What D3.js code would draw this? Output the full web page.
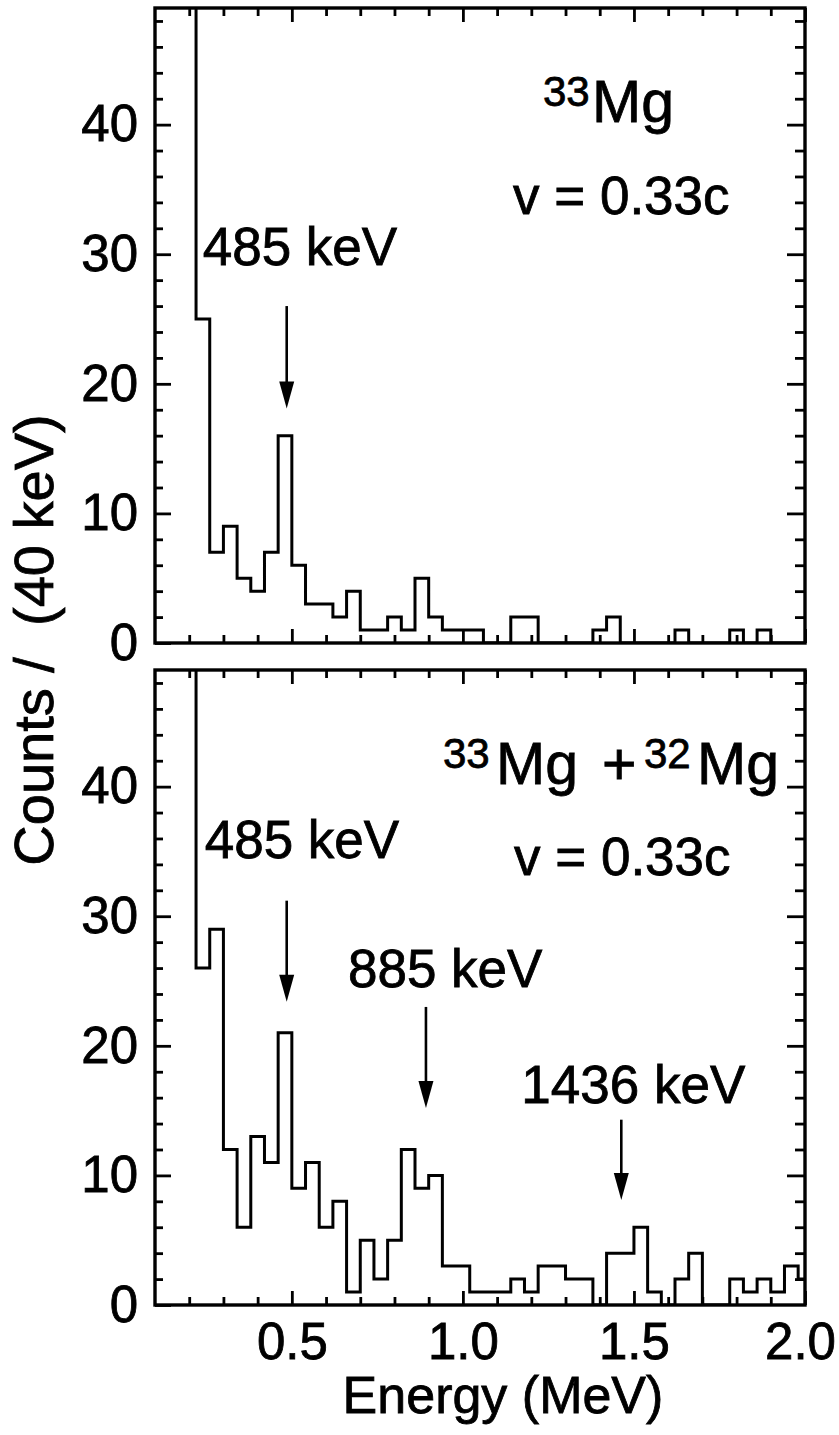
<!DOCTYPE html>
<html>
<head>
<meta charset="utf-8">
<script src="https://cdn.jsdelivr.net/npm/d3@7"></script>
<style>
  body { margin: 0; background: #fff; }
  text { font-family: "Liberation Sans", Arial, Helvetica, sans-serif; fill: #000;
         stroke: #000; stroke-width: 0.8px; }
</style>
</head>
<body>
<svg id="chart" width="839" height="1435"></svg>
<script>
// bin lower edges (40 keV bins), last value closes the last bin
var binEdges = [0.22,0.26,0.30,0.34,0.38,0.42,0.46,0.50,0.54,0.58,0.62,0.66,0.70,0.74,0.78,
  0.82,0.86,0.90,0.94,0.98,1.02,1.06,1.10,1.14,1.18,1.22,1.26,1.30,1.34,1.38,1.42,1.46,1.50,
  1.54,1.58,1.62,1.66,1.70,1.74,1.78,1.82,1.86,1.90,1.94,1.98,2.02];

// counts per bin, 33Mg only
var counts33 = [25,7,9,5,4,7,16,6,3,3, 2,4,1,1,2,1,5,2,1,1, 1,0,0,2,2,0,0,0,0,1,
  2,0,0,0,0,1,0,0,0,1, 0,1,0,0,0];
// counts per bin, 33Mg + 32Mg
var counts3332 = [26,29,12,6,13,11,21,9,11,6, 8,1,5,2,5,12,9,10,3,3, 1,1,1,2,1,3,3,2,2,0,
  4,4,6,1,0,2,4,0,0,2, 1,2,1,3,2];

var xMajor = [0.5, 1.0, 1.5, 2.0];
var xMinor = [0.2,0.3,0.4,0.6,0.7,0.8,0.9,1.1,1.2,1.3,1.4,1.6,1.7,1.8,1.9];
var yMajor = [0, 10, 20, 30, 40];
var yMinor = [2,4,6,8,12,14,16,18,22,24,26,28,32,34,36,38,42,44,46,48];

// gamma lines marked with arrows: label, energy (MeV), arrow top / tip (counts)
var lines33 = [ { label: "485 keV", e: 0.485, from: 26.0, to: 18.1 } ];
var lines3332 = [
  { label: "485 keV", e: 0.485, from: 31.2, to: 23.4 },
  { label: "885 keV", e: 0.892, from: 23.0, to: 15.2 },
  { label: "1436 keV", e: 1.463, from: 14.3, to: 8.1 }
];

var svg = d3.select("#chart");
var x = d3.scaleLinear().domain([0.1, 2.0]).range([155, 805]);

var panels = [
  { id: "p1", top: 8, bottom: 643, counts: counts33, lines: lines33, xLabels: false },
  { id: "p2", top: 670, bottom: 1305, counts: counts3332, lines: lines3332, xLabels: true }
];

// label placement for each arrow (pixels relative to arrow x / arrow top)
var labelOffsets = {
  p1: [ { dx: -84, dy: -41 } ],
  p2: [ { dx: -82, dy: -43 }, { dx: -78, dy: -20 }, { dx: -100, dy: -17 } ]
};

panels.forEach(function(p) {
  var y = d3.scaleLinear().domain([0, 49]).range([p.bottom, p.top]);
  var g = svg.append("g");

  g.append("clipPath").attr("id", "clip-" + p.id)
    .append("rect")
    .attr("x", x.range()[0]).attr("y", p.top)
    .attr("width", x.range()[1] - x.range()[0]).attr("height", p.bottom - p.top);

  // histogram outline, first bin runs off the top of the frame
  var pts = [[binEdges[0], 49]];
  p.counts.forEach(function(c, i) { pts.push([binEdges[i], c]); });
  pts.push([binEdges[binEdges.length - 1], p.counts[p.counts.length - 1]]);

  var line = d3.line().curve(d3.curveStepAfter)
    .x(function(d) { return x(d[0]); })
    .y(function(d) { return y(d[1]); });

  g.append("path")
    .attr("d", line(pts))
    .attr("clip-path", "url(#clip-" + p.id + ")")
    .attr("fill", "none")
    .attr("stroke", "#000")
    .attr("stroke-width", 3)
    .attr("stroke-linejoin", "miter");

  // ticks on all four sides, pointing inward
  function style(sel) {
    sel.select(".domain").remove();
    sel.selectAll(".tick line").attr("stroke", "#000").attr("stroke-width", 2.8);
    sel.selectAll(".tick text").attr("font-family", "Liberation Sans, Arial, sans-serif")
      .attr("fill", "#000");
  }
  g.append("g").attr("transform", "translate(0," + p.bottom + ")")
    .call(d3.axisBottom(x).tickValues(xMinor).tickSize(-8).tickFormat("")).call(style);
  g.append("g").attr("transform", "translate(0," + p.top + ")")
    .call(d3.axisTop(x).tickValues(xMinor).tickSize(-8).tickFormat("")).call(style);
  g.append("g").attr("transform", "translate(0," + p.top + ")")
    .call(d3.axisTop(x).tickValues(xMajor).tickSize(-14).tickFormat("")).call(style);
  var xb = g.append("g").attr("transform", "translate(0," + p.bottom + ")")
    .call(d3.axisBottom(x).tickValues(xMajor).tickSize(-14).tickPadding(18)
      .tickFormat(p.xLabels ? d3.format(".1f") : "")).call(style);
  xb.selectAll(".tick text").attr("font-size", 51)
    .attr("dx", function(d) { return d === 2.0 ? -5 : 0; });

  g.append("g").attr("transform", "translate(155,0)")
    .call(d3.axisLeft(y).tickValues(yMinor).tickSize(-8).tickFormat("")).call(style);
  var yl = g.append("g").attr("transform", "translate(155,0)")
    .call(d3.axisLeft(y).tickValues(yMajor).tickSize(-16).tickPadding(17)
      .tickFormat(d3.format("d"))).call(style);
  yl.selectAll(".tick text").attr("font-size", 51);
  g.append("g").attr("transform", "translate(805,0)")
    .call(d3.axisRight(y).tickValues(yMinor).tickSize(-10).tickFormat("")).call(style);
  g.append("g").attr("transform", "translate(805,0)")
    .call(d3.axisRight(y).tickValues(yMajor.slice(1)).tickSize(-18).tickFormat("")).call(style);

  // frame
  g.append("rect")
    .attr("x", x.range()[0]).attr("y", p.top)
    .attr("width", x.range()[1] - x.range()[0]).attr("height", p.bottom - p.top)
    .attr("fill", "none").attr("stroke", "#000").attr("stroke-width", 3.4);

  // arrows and line labels
  p.lines.forEach(function(d, i) {
    var ax = x(d.e), y0 = y(d.from), y1 = y(d.to);
    var head = 27;
    g.append("line")
      .attr("x1", ax).attr("x2", ax).attr("y1", y0).attr("y2", y1 - head + 2)
      .attr("stroke", "#000").attr("stroke-width", 2.6);
    g.append("path")
      .attr("d", "M" + (ax - 7.5) + "," + (y1 - head) + "L" + (ax + 7.5) + "," + (y1 - head) +
        "L" + ax + "," + y1 + "Z")
      .attr("fill", "#000");
    var off = labelOffsets[p.id][i];
    g.append("text")
      .attr("x", ax + off.dx).attr("y", y0 + off.dy)
      .attr("font-size", 53)
      .text(d.label);
  });
});

// isotope and velocity labels
function isoLabel(parts, baseY) {
  var t = svg.append("text").attr("y", baseY);
  parts.forEach(function(s) {
    t.append("tspan")
      .attr("x", s.x)
      .attr("y", s.sup ? baseY - 16 : baseY)
      .attr("font-size", s.sup ? 42 : 59)
      .text(s.t);
  });
}
isoLabel([{ t: "33", x: 543, sup: true }, { t: "Mg", x: 592 }], 122);
svg.append("text").attr("x", 513).attr("y", 214).attr("font-size", 53).text("v = 0.33c");

isoLabel([{ t: "33", x: 443, sup: true }, { t: "Mg", x: 496 }, { t: "+", x: 602 },
  { t: "32", x: 644, sup: true }, { t: "Mg", x: 697 }], 784);
svg.append("text").attr("x", 514).attr("y", 875).attr("font-size", 53).text("v = 0.33c");

// axis titles
svg.append("text")
  .attr("x", 503).attr("y", 1413)
  .attr("text-anchor", "middle")
  .attr("font-size", 52)
  .text("Energy (MeV)");

svg.append("text")
  .attr("transform", "translate(53,640) rotate(-90)")
  .attr("text-anchor", "middle")
  .attr("font-size", 56)
  .style("white-space", "pre")
  .text("Counts /  (40 keV)");
</script>
</body>
</html>
